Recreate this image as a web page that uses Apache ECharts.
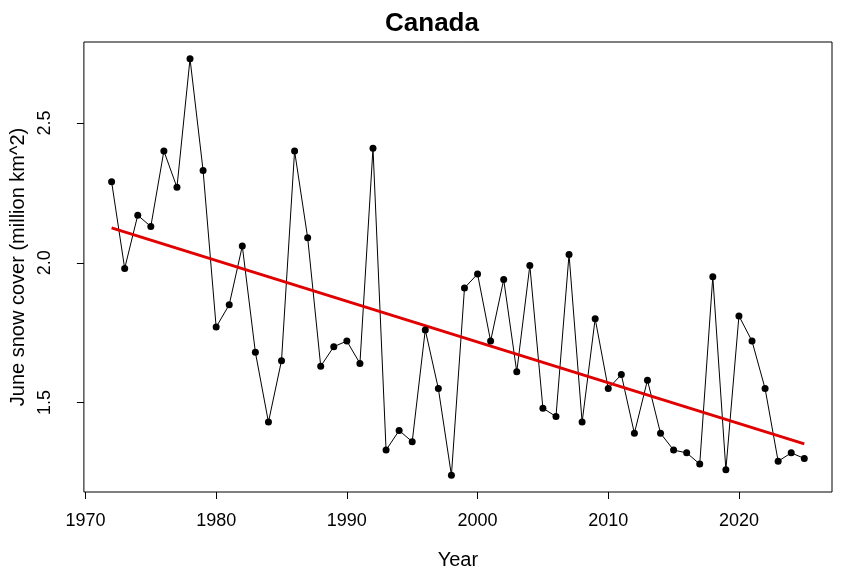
<!DOCTYPE html>
<html>
<head>
<meta charset="utf-8">
<script src="https://cdn.jsdelivr.net/npm/echarts@6/dist/echarts.min.js"></script>
<style>html,body{margin:0;padding:0;background:#fff}</style>
</head>
<body>
<div id="main" style="width:864px;height:575px;"></div>
<script>
var years = [1972,1973,1974,1975,1976,1977,1978,1979,1980,1981,1982,1983,1984,1985,1986,1987,1988,1989,1990,1991,1992,1993,1994,1995,1996,1997,1998,1999,2000,2001,2002,2003,2004,2005,2006,2007,2008,2009,2010,2011,2012,2013,2014,2015,2016,2017,2018,2019,2020,2021,2022,2023,2024,2025];
var cover = [2.29,1.98,2.17,2.13,2.40,2.27,2.73,2.33,1.77,1.85,2.06,1.68,1.43,1.65,2.40,2.09,1.63,1.70,1.72,1.64,2.41,1.33,1.40,1.36,1.76,1.55,1.24,1.91,1.96,1.72,1.94,1.61,1.99,1.48,1.45,2.03,1.43,1.80,1.55,1.60,1.39,1.58,1.39,1.33,1.32,1.28,1.95,1.26,1.81,1.72,1.55,1.29,1.32,1.30];
var trendYears = [1972, 2025];
var trendValues = [2.125, 1.352];
var xTicks = [1970,1980,1990,2000,2010,2020];
var yTicks = [1.5,2.0,2.5];

var chart = echarts.init(document.getElementById('main'));
var font = 'Liberation Sans, Arial, sans-serif';
chart.setOption({
  animation: false,
  title: {text: 'Canada', left: 'center', top: 6,
    textStyle: {fontFamily: font, fontSize: 26, fontWeight: 'bold', color: '#000'}},
  grid: {left: 82, right: 32, top: 42, bottom: 83, show: true, borderColor: '#000', borderWidth: 1},
  xAxis: {type: 'value', min: 1969.88, max: 2027.12,
    name: 'Year', nameLocation: 'middle', nameGap: 58,
    nameTextStyle: {fontFamily: font, fontSize: 20, color: '#000'},
    axisLine: {show: false}, splitLine: {show: false},
    axisTick: {show: true, length: 7, inside: false, customValues: xTicks, lineStyle: {color: '#000'}},
    axisLabel: {customValues: xTicks, fontFamily: font, fontSize: 18, color: '#000', margin: 20,
      formatter: function (v) { return String(v); }}},
  yAxis: {type: 'value', min: 1.18, max: 2.79,
    name: 'June snow cover (million km^2)', nameLocation: 'middle', nameGap: 55,
    nameTextStyle: {fontFamily: font, fontSize: 20, color: '#000'},
    axisLine: {show: false}, splitLine: {show: false},
    axisTick: {show: true, length: 7, customValues: yTicks, lineStyle: {color: '#000'}},
    axisLabel: {customValues: yTicks, rotate: 90, fontFamily: font, fontSize: 18, color: '#000', margin: 30,
      formatter: function (v) { return v.toFixed(1); }}},
  series: [
    {type: 'line', data: years.map(function (y, i) { return [y, cover[i]]; }),
      symbol: 'circle', symbolSize: 7, itemStyle: {color: '#000'},
      lineStyle: {color: '#000', width: 1}},
    {type: 'line', data: trendYears.map(function (y, i) { return [y, trendValues[i]]; }),
      symbol: 'none', lineStyle: {color: '#e00000', width: 3}}
  ]
});
</script>
</body>
</html>
